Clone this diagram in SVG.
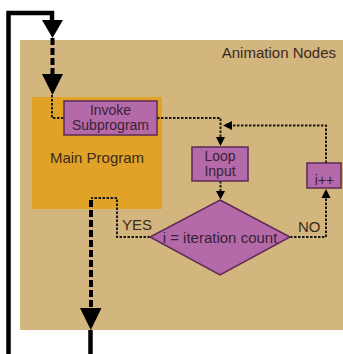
<svg xmlns="http://www.w3.org/2000/svg" width="343" height="354" viewBox="0 0 343 354">
<style>
.lbl{font-family:"Liberation Sans",Arial,sans-serif;font-size:15px;fill:#3a2a1c}
.plbl{font-family:"Liberation Sans",Arial,sans-serif;font-size:14px;fill:#3b1f35;text-anchor:middle}
.pnode{fill:#B46AA9;stroke:#5e2a55;stroke-width:1.5}
.dot{fill:none;stroke:#1a1a1a;stroke-width:2;stroke-dasharray:2.5 1.5}
.thick{fill:none;stroke:#000;stroke-width:4;stroke-dasharray:7 3}
.solid{fill:none;stroke:#000;stroke-width:4.5}
.ah{fill:#000}
</style>
<rect x="0" y="0" width="343" height="354" fill="#fff"/>
<g id="animation-nodes">
<rect x="20" y="40" width="323" height="290" fill="#D3B57E"/>
<text class="lbl" x="336" y="58" text-anchor="end">Animation Nodes</text>
</g>
<g id="main-program">
<rect x="32" y="97" width="130" height="112" fill="#E1A228"/>
<text class="lbl" x="97" y="163" text-anchor="middle">Main Program</text>
</g>
<g id="connectors">
<path class="solid" d="M90.5 330 V356.5 H8.5 V13 H52 V22"/>
<polygon class="ah" points="42,20 63,20 52.5,38"/>
<path class="thick" d="M52.5 38 V75"/>
<polygon class="ah" points="42,74 63,74 52.5,95"/>
<path class="dot" d="M52 95 V118 H64"/>
<path class="dot" d="M157 118 H220.5 V138"/>
<polygon class="ah" points="216,137 225,137 220.5,146"/>
<path class="dot" d="M220.5 181 V192"/>
<polygon class="ah" points="216,191 225,191 220.5,199.5"/>
<path class="dot" d="M290 237 H326 V197"/>
<polygon class="ah" points="321.5,198 330.5,198 326,189"/>
<path class="dot" d="M326 163 V125.5 H231"/>
<polygon class="ah" points="232,121 232,130 223,125.5"/>
<path class="dot" d="M150 237 H117 V198 H91"/>
<path class="thick" d="M91 200 V310"/>
<polygon class="ah" points="80,308 101.5,308 90.8,330"/>
</g>
<g id="invoke-subprogram">
<rect class="pnode" x="64" y="101" width="93" height="34"/>
<text class="plbl" x="110.5" y="115">Invoke</text>
<text class="plbl" x="110.5" y="130">Subprogram</text>
</g>
<g id="loop-input">
<rect class="pnode" x="192" y="147" width="56" height="34"/>
<text class="plbl" x="220" y="160.5">Loop</text>
<text class="plbl" x="220" y="175.5">Input</text>
</g>
<g id="increment">
<rect class="pnode" x="307" y="163" width="34" height="25"/>
<text class="plbl" x="324.5" y="185">i++</text>
</g>
<g id="condition">
<polygon class="pnode" points="220,200 290,237 220,275 150,237"/>
<text class="lbl" x="220" y="243" text-anchor="middle" style="fill:#3b1f35">i = iteration count</text>
</g>
<g id="edge-labels">
<text class="lbl" x="122" y="230">YES</text>
<text class="lbl" x="298" y="232">NO</text>
</g>
</svg>
